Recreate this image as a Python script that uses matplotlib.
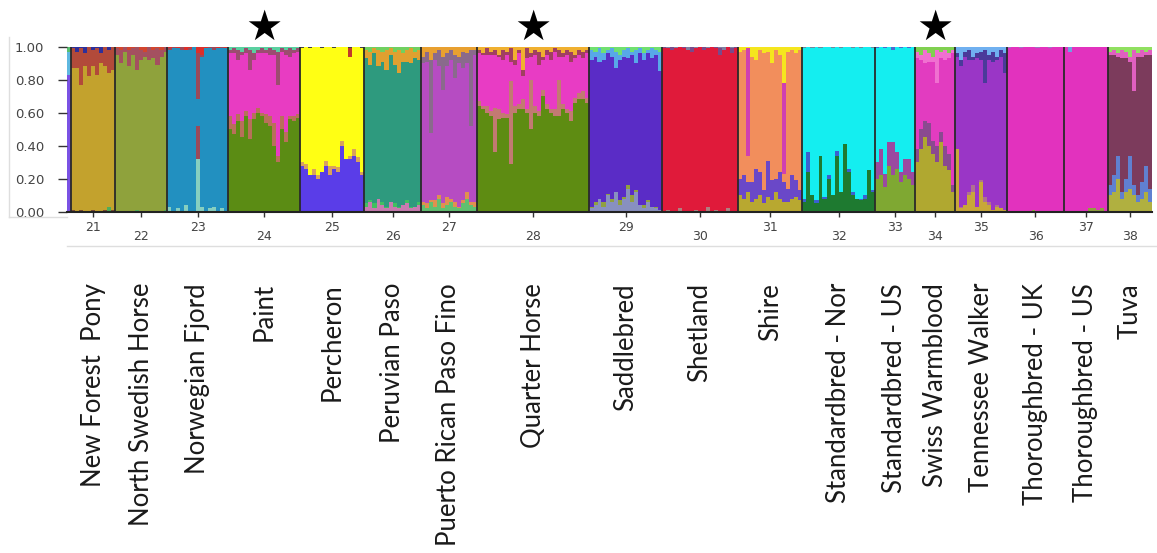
import matplotlib
matplotlib.use("Agg")
import numpy as np
import matplotlib.pyplot as plt
import matplotlib.transforms as mtransforms
from matplotlib.lines import Line2D

# populations (20 is only the tail end of the previous panel)
pop_ids = ["20", "21", "22", "23", "24", "25", "26", "27", "28", "29",
           "30", "31", "32", "33", "34", "35", "36", "37", "38"]
breeds = ["", "New Forest  Pony", "North Swedish Horse", "Norwegian Fjord", "Paint",
          "Percheron", "Peruvian Paso", "Puerto Rican Paso Fino", "Quarter Horse",
          "Saddlebred", "Shetland", "Shire", "Standardbred - Nor", "Standardbred - US",
          "Swiss Warmblood", "Tennessee Walker", "Thoroughbred - UK",
          "Thoroughbred - US", "Tuva"]
starred = ["24", "28", "34"]

# main cluster colour of each population
main_col = ["#7a52e4", "#c3a22d", "#8fa23c", "#2290c0", "#e83cc2", "#ffff14",
            "#2e9a7e", "#b64cc2", "#e83cc4", "#5a2cc6", "#e01a3a", "#f28e5c",
            "#14eef0", "#14eef0", "#e23cc0", "#9a36c6", "#e232be", "#e232be",
            "#7c3b5c"]

# admixture layers (percent per individual) stacked below the main cluster
low_a_col = ["#7a52e4", "#4fae5a", "#4fae5a", "#86cfc0", "#5b8c14", "#5a3de8",
             "#c87ab0", "#60c070", "#5e8c12", "#8890c0", "#b08080", "#b8a830",
             "#1e7a30", "#7fa832", "#b0a830", "#c8a838", "#90a040", "#90a040",
             "#b0b040"]
low_a = [
    [0],
    [0, 0, 0, 0, 0, 0, 0, 0, 0, 3, 0],
    [0, 0, 0, 0, 0, 1, 0, 0, 0, 0, 0, 0, 1],
    [3, 0, 2, 0, 4, 0, 0, 32, 3, 0, 2, 3, 0, 2, 0],
    [50, 47, 55, 45, 58, 44, 56, 60, 58, 54, 52, 40, 30, 50, 42, 56, 55, 57],
    [28, 26, 22, 22, 20, 24, 28, 22, 26, 24, 40, 32, 32, 34, 30, 22],
    [3, 6, 2, 8, 4, 2, 6, 3, 2, 4, 5, 2, 3, 4],
    [4, 2, 6, 3, 8, 2, 4, 6, 3, 2, 5, 8, 4, 3],
    [64, 62, 60, 58, 36, 56, 57, 57, 29, 60, 62, 62, 60, 50, 60, 58, 70, 62, 60, 58,
     58, 62, 60, 55, 66, 68, 68, 66],
    [2, 4, 8, 3, 10, 6, 12, 4, 8, 14, 6, 12, 4, 2, 6, 3, 2, 1],
    [0, 1, 0, 0, 2, 0, 0, 0, 1, 0, 0, 3, 0, 1, 0, 0, 2, 0, 0],
    [10, 8, 12, 6, 8, 10, 5, 9, 7, 12, 8, 6, 6, 8, 9, 7],
    [6, 24, 10, 5, 34, 8, 20, 10, 34, 12, 41, 24, 10, 8, 7, 8, 25, 12],
    [20, 22, 15, 28, 22, 26, 18, 22, 20, 16],
    [30, 38, 45, 40, 35, 30, 42, 28, 25, 12],
    [38, 2, 4, 10, 12, 3, 18, 6, 4, 1, 3, 2, 1],
    [0, 0, 0, 0, 0, 0, 1, 0, 0, 0, 0, 0, 0, 0],
    [0, 0, 0, 0, 0, 0, 2, 2, 1, 2, 0],
    [10, 12, 20, 8, 12, 14, 10, 6, 8, 12, 6],
]
low_b_col = ["#7a52e4", "#7a4a30", "#7a4a30", "#9a4a5a", "#b8705a", "#d9a25c",
             "#40c060", "#e09050", "#c27a72", "#90a040", "#e0a0a0", "#6a48c8",
             "#3a60d0", "#9a4aa0", "#8a4a90", "#b07090", "#90a040", "#90a040",
             "#6080d0"]
low_b = [
    [0],
    [1, 0, 1, 0, 0, 1, 0, 0, 1, 0, 1],
    [0, 0, 0, 0, 0, 0, 0, 0, 0, 0, 0, 0, 0],
    [0, 0, 0, 0, 0, 0, 0, 20, 0, 0, 0, 0, 0, 0, 0],
    [8, 6, 4, 10, 3, 12, 4, 3, 2, 5, 6, 14, 4, 8, 6, 2, 3, 2],
    [2, 3, 0, 4, 2, 0, 3, 6, 2, 3, 3, 0, 2, 4, 3, 2],
    [2, 1, 3, 0, 2, 1, 0, 2, 1, 0, 2, 1, 0, 2],
    [2, 3, 1, 4, 2, 3, 5, 2, 3, 1, 2, 4, 2, 3],
    [3, 2, 4, 3, 27, 6, 3, 2, 50, 4, 3, 6, 2, 30, 4, 3, 4, 3, 2, 4,
     22, 3, 2, 6, 3, 4, 5, 3],
    [1, 2, 0, 3, 1, 2, 0, 3, 1, 2, 4, 1, 0, 2, 1, 0, 1, 0],
    [0, 0, 0, 0, 0, 0, 0, 0, 0, 0, 0, 0, 0, 0, 0, 0, 0, 0, 0],
    [10, 14, 6, 12, 18, 14, 8, 22, 12, 8, 16, 12, 8, 14, 10, 6],
    [2, 12, 0, 2, 0, 1, 2, 0, 3, 0, 0, 2, 2, 0, 1, 2, 0, 1],
    [10, 16, 8, 14, 20, 10, 6, 10, 12, 8],
    [8, 12, 10, 14, 8, 10, 6, 12, 10, 4],
    [0, 1, 0, 2, 4, 0, 1, 3, 2, 0, 1, 0, 0],
    [0, 0, 0, 0, 0, 0, 0, 0, 0, 0, 0, 0, 0, 0],
    [0, 0, 0, 0, 0, 0, 0, 0, 0, 0, 0],
    [6, 10, 14, 4, 8, 20, 6, 4, 10, 16, 8],
]

# admixture layers stacked above the main cluster (top_b is the uppermost)
top_a_col = ["#5fb8e0", "#b24a3a", "#a45060", "#9a4a5a", "#9c4c70", "#c23a2a",
             "#e0a030", "#8a6a8c", "#a04060", "#58a8e8", "#7a4a8a", "#d040b0",
             "#6a8aa0", "#4a6ad0", "#f070d0", "#4a3a9a", "#a070c0", "#70a0e0",
             "#e060c0"]
top_a = [
    [14],
    [12, 10, 22, 8, 18, 10, 16, 6, 12, 14, 14],
    [4, 8, 3, 10, 4, 14, 6, 3, 8, 5, 10, 4, 3],
    [1, 1, 0, 2, 0, 1, 0, 28, 1, 0, 1, 2, 0, 1, 0],
    [2, 3, 6, 2, 3, 12, 4, 2, 3, 2, 4, 3, 20, 2, 3, 5, 2, 2],
    [0, 0, 0, 0, 0, 0, 0, 0, 0, 0, 0, 0, 5, 0, 0, 0],
    [5, 8, 3, 10, 6, 12, 4, 8, 14, 5, 7, 9, 4, 6],
    [4, 6, 44, 4, 10, 20, 8, 6, 14, 4, 10, 6, 46, 3],
    [2, 1, 4, 2, 3, 1, 6, 2, 8, 3, 2, 4, 6, 2, 3, 8, 2, 3, 5, 2,
     4, 2, 3, 6, 2, 3, 4, 2],
    [6, 3, 8, 4, 2, 5, 10, 3, 4, 6, 2, 8, 3, 4, 2, 6, 3, 12],
    [1, 0, 2, 0, 0, 1, 0, 3, 0, 0, 2, 0, 0, 1, 4, 0, 0, 3, 1],
    [0, 0, 65, 0, 0, 0, 0, 0, 0, 0, 0, 55, 0, 0, 0, 0],
    [1, 0, 1, 0, 1, 0, 0, 1, 0, 1, 0, 0, 1, 0, 1, 0, 0, 1],
    [1, 0, 1, 0, 2, 0, 1, 0, 1, 0],
    [4, 3, 8, 5, 3, 20, 4, 6, 3, 2],
    [2, 4, 3, 6, 2, 3, 5, 20, 3, 6, 2, 4, 12],
    [1, 0, 0, 1, 0, 0, 0, 1, 0, 0, 1, 0, 0, 0],
    [0, 3, 0, 0, 0, 0, 0, 0, 0, 0, 0],
    [2, 3, 2, 5, 4, 3, 25, 2, 4, 2, 3],
]
top_b_col = ["#58c070", "#2e2f9a", "#d2452e", "#dc2f2a", "#5ad0a0", "#444444",
             "#70d060", "#e8a030", "#f0b030", "#70e070", "#8080a0", "#f5e61e",
             "#20a0a0", "#20a0a0", "#80d050", "#70b0f0", "#a070c0", "#70a0e0",
             "#90e060"]
top_b = [
    [3],
    [1, 3, 1, 4, 0, 2, 1, 4, 0, 2, 0],
    [1, 2, 0, 2, 1, 0, 2, 3, 0, 2, 1, 2, 0],
    [1, 0, 1, 0, 2, 1, 0, 4, 5, 1, 0, 0, 1, 0, 1],
    [2, 1, 2, 3, 1, 2, 4, 2, 1, 2, 1, 2, 3, 1, 2, 1, 2, 1],
    [1, 0, 1, 0, 0, 1, 0, 0, 1, 0, 0, 0, 1, 0, 0, 1],
    [2, 3, 1, 2, 3, 2, 1, 3, 2, 4, 2, 1, 3, 2],
    [6, 3, 8, 4, 2, 6, 4, 2, 5, 6, 3, 4, 2, 2],
    [2, 4, 1, 3, 2, 5, 2, 3, 1, 8, 2, 14, 1, 4, 2, 3, 6, 2, 3, 1,
     2, 4, 2, 3, 5, 2, 3, 2],
    [2, 3, 1, 4, 2, 1, 3, 5, 2, 1, 3, 2, 1, 4, 2, 1, 2, 3],
    [0, 1, 0, 1, 0, 0, 2, 0, 1, 0, 0, 1, 0, 0, 1, 2, 0, 1, 0],
    [3, 2, 1, 6, 8, 2, 4, 3, 10, 2, 5, 22, 3, 2, 4, 2],
    [0, 0, 0, 0, 0, 0, 0, 0, 0, 0, 0, 0, 0, 0, 0, 0, 0, 0],
    [0, 0, 0, 0, 0, 0, 0, 0, 0, 0],
    [3, 5, 2, 4, 6, 2, 3, 2, 4, 2],
    [4, 8, 3, 2, 6, 4, 3, 2, 5, 3, 6, 2, 4],
    [0, 0, 0, 0, 0, 0, 0, 0, 0, 0, 0, 0, 0, 0],
    [0, 0, 0, 0, 0, 0, 0, 0, 0, 0, 0],
    [3, 2, 4, 2, 3, 6, 2, 4, 2, 3, 2],
]

W, H = 1157, 553


def main():
    fig = plt.figure(figsize=(W / 100, H / 100), dpi=100)
    ax = fig.add_axes([67 / W, 1 - 211.7 / H, 1085 / W, 165 / H])

    sizes = [len(v) for v in low_a]
    edges = np.concatenate([[0], np.cumsum(sizes)])
    centers = (edges[:-1] + edges[1:]) / 2

    for p in range(len(pop_ids)):
        x = np.arange(edges[p], edges[p + 1])
        la = np.array(low_a[p]) / 100
        lb = np.array(low_b[p]) / 100
        ta = np.array(top_a[p]) / 100
        tb = np.array(top_b[p]) / 100
        mid = np.clip(1 - la - lb - ta - tb, 0, 1)
        bottom = np.zeros(len(x))
        for vals, col in [(la, low_a_col[p]), (lb, low_b_col[p]), (mid, main_col[p]),
                          (ta, top_a_col[p]), (tb, top_b_col[p])]:
            ax.bar(x, vals, bottom=bottom, width=1.02, align="edge", color=col,
                   linewidth=0)
            bottom = bottom + vals

    # population separators
    for e in edges[1:-1]:
        ax.axvline(e, color="#2a2a2a", lw=1.3)

    ax.set_xlim(edges[0], edges[-1])
    ax.set_ylim(0, 1)
    for s in ["top", "right", "left"]:
        ax.spines[s].set_visible(False)
    ax.spines["bottom"].set_color("#222222")
    ax.spines["bottom"].set_linewidth(1.5)

    ax.set_yticks(np.arange(0, 1.01, 0.2))
    ax.set_yticklabels(["%.2f" % v for v in np.arange(0, 1.01, 0.2)])
    ax.tick_params(axis="y", length=6.5, width=1, color="#333333", pad=10,
                   labelsize=9.5, labelcolor="#444444")

    ax.set_xticks(centers[1:])
    ax.set_xticklabels(pop_ids[1:])
    ax.tick_params(axis="x", length=3.5, width=1, color="#333333", labelsize=9,
                   labelcolor="#444444")
    for i, t in enumerate(ax.xaxis.get_major_ticks()):
        t.set_pad(3 if i % 2 == 0 else 9.5)

    # breed names below
    trans = mtransforms.blended_transform_factory(ax.transData, fig.transFigure)
    for c, name in zip(centers[1:], breeds[1:]):
        ax.text(c, 1 - 283 / H, name, rotation=90, ha="center", va="top",
                fontsize=18.5, family="Lato", color="#1a1a1a", transform=trans)

    for pid in starred:
        c = centers[pop_ids.index(pid)]
        ax.text(c, 1 - 28 / H, "\u2605", ha="center", va="center", fontsize=30,
                color="black", transform=trans, family="DejaVu Sans")

    # faint frame of the pasted panel
    grey = "#dedede"
    fig.add_artist(Line2D([9 / W, 9 / W], [1 - 37 / H, 1 - 217 / H], color=grey, lw=1))
    fig.add_artist(Line2D([9 / W, 67 / W], [1 - 217 / H, 1 - 217 / H], color=grey, lw=1))
    fig.add_artist(Line2D([67 / W, 1], [1 - 246 / H, 1 - 246 / H], color=grey, lw=1))

    fig.savefig("out.png", dpi=100, facecolor="white")


if __name__ == "__main__":
    main()
